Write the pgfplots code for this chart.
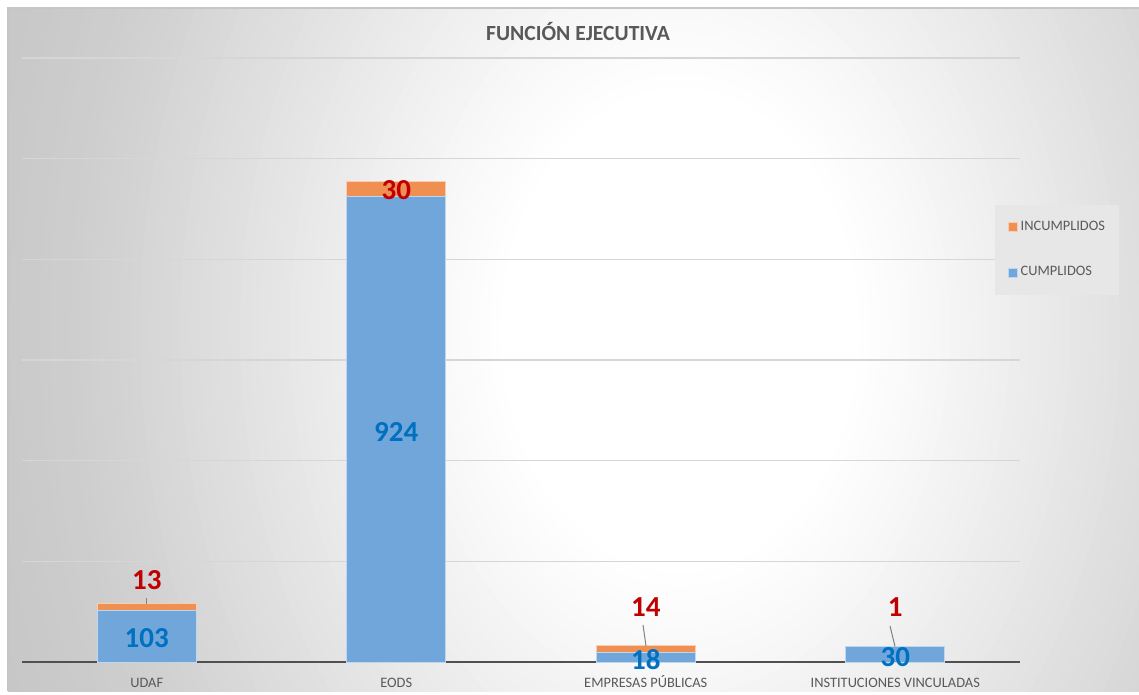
\documentclass[border=0pt]{standalone}
\usepackage{pgfplots}
\usepackage{pgfplotstable}
\pgfplotsset{compat=1.18}
\usepackage{fontspec}
\setmainfont{Carlito}
\definecolor{cblue}{RGB}{112,166,218}
\definecolor{corange}{RGB}{239,144,82}
\definecolor{lblue}{RGB}{0,112,192}
\definecolor{lred}{RGB}{192,0,0}
\definecolor{txtgray}{RGB}{89,89,89}
\definecolor{axgray}{RGB}{80,80,80}
\definecolor{gridgray}{RGB}{214,214,214}
\definecolor{legfill}{gray}{0.905}

% bar values
\pgfplotstableread{
x y
0 103
1 924
2 18
3 30
}\cumpl
\pgfplotstableread{
x y
0 13
1 30
2 14
3 1
}\incumpl

\begin{document}
\begin{tikzpicture}
\begin{scope}[x=0.5pt,y=0.5pt]
\useasboundingbox (0,0) rectangle (1139,691);
\fill[white] (0,0) rectangle (1139,691);
\begin{scope}
\clip (8,0) rectangle (1139,683);
\foreach \r in {820,810,...,180}{
  \pgfmathsetmacro\g{\r>=720 ? 0.78 : (\r>=600 ? 0.81-(\r-600)*0.03/120 : (\r>=450 ? 0.88-(\r-450)*0.07/150 : (\r>=300 ? 0.95-(\r-300)*0.07/150 : 1-(\r-180)*0.05/120)))}
  \definecolor{bgtmp}{gray}{\g}
  \fill[bgtmp] (680,361) ellipse [x radius=\r, y radius=1.35*\r];
}
\end{scope}
\draw[gray!45, line width=0.6pt] (8,0) -- (8,683) -- (1139,683);
\node[font=\bfseries\fontsize{10.8}{12}\selectfont, text=txtgray] at (578,659.3) {FUNCIÓN EJECUTIVA};
\end{scope}
\begin{axis}[
  at={(11pt,14.5pt)}, anchor=south west,
  scale only axis, width=499pt, height=302pt,
  ybar stacked, bar width=49.5pt,
  xmin=-0.5, xmax=3.5, ymin=0, ymax=1200,
  enlargelimits=false,
  xtick={0,1,2,3},
  xticklabels={UDAF,EODS,EMPRESAS PÚBLICAS,INSTITUCIONES VINCULADAS},
  ytick={200,400,600,800,1000,1200},
  yticklabels={},
  ymajorgrids, grid style={draw=gridgray, line width=0.6pt},
  axis lines*=left,
  y axis line style={draw=none},
  x axis line style={draw=axgray, line width=1pt},
  major tick length=0pt,
  xticklabel style={font=\fontsize{7.2}{8}\selectfont, text=txtgray, anchor=base, yshift=-12.75pt},
  legend style={at={(0.975,0.758)}, anchor=north west, draw=none, fill=legfill,
    font=\fontsize{7.2}{8}\selectfont, text=txtgray, row sep=15.5pt,
    inner xsep=6.5pt, inner ysep=7.5pt, nodes={inner sep=0.6pt}},
  legend cell align=left,
  reverse legend,
  legend image code/.code={\fill[#1] (0pt,-2.25pt) rectangle (4.5pt,2.25pt); \path (5pt,0pt);},
  clip=false,
]
\addplot[fill=cblue, draw=white!55!cblue, line width=0.5pt] table[x=x,y=y]{\cumpl};
\addlegendentry{CUMPLIDOS}
\addplot[fill=corange, draw=white!55!corange, line width=0.5pt] table[x=x,y=y]{\incumpl};
\addlegendentry{INCUMPLIDOS}
\end{axis}
% overlay axis for data labels and leader lines
\begin{axis}[
  at={(11pt,14.5pt)}, anchor=south west,
  scale only axis, width=499pt, height=302pt,
  xmin=-0.5, xmax=3.5, ymin=0, ymax=1200,
  enlargelimits=false, hide axis, clip=false,
]
\addplot[gray, line width=0.5pt] coordinates {(0,116) (0,127)};
\addplot[gray, line width=0.5pt] coordinates {(1.989,73.5) (2.001,32)};
\addplot[gray, line width=0.5pt] coordinates {(2.979,71.5) (2.999,31)};
\addplot[draw=none, mark=none, point meta=explicit symbolic,
  nodes near coords={\pgfplotspointmeta},
  every node near coord/.append style={anchor=center, inner sep=0pt,
    font=\bfseries\fontsize{14.5}{16}\selectfont, text=lblue}]
  coordinates {(0,47.7) [103] (1,457) [924] (2,4) [18] (3,9.9) [30]};
\addplot[draw=none, mark=none, point meta=explicit symbolic,
  nodes near coords={\pgfplotspointmeta},
  every node near coord/.append style={anchor=center, inner sep=0pt,
    font=\bfseries\fontsize{14.5}{16}\selectfont, text=lred}]
  coordinates {(0,162.9) [13] (1,937.8) [30] (2,109.3) [14] (3,109.3) [1]};
\end{axis}
\end{tikzpicture}
\end{document}
